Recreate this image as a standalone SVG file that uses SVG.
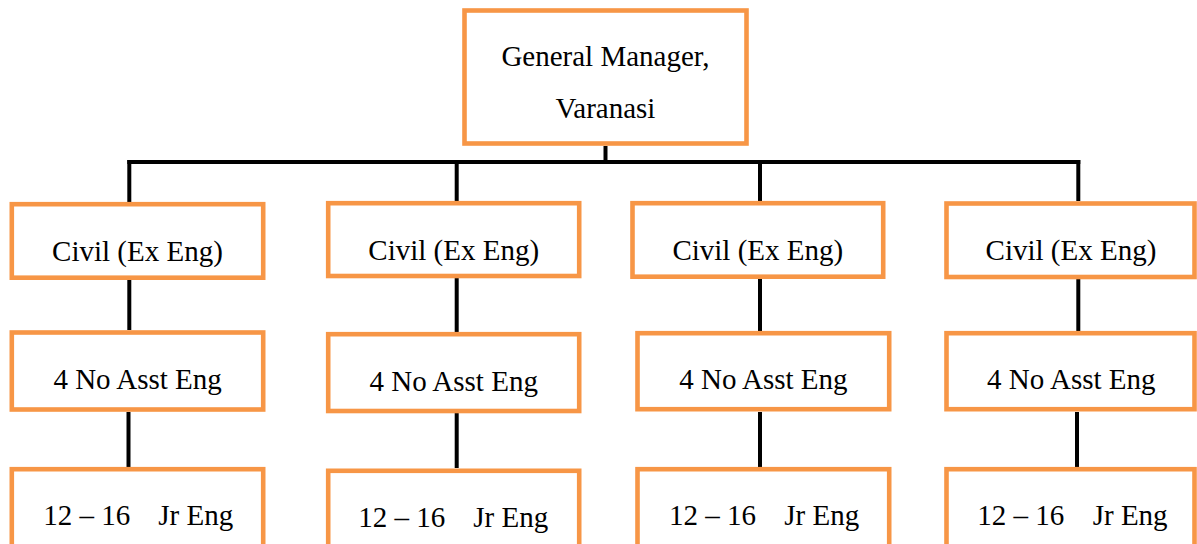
<svg xmlns="http://www.w3.org/2000/svg" width="1197" height="544" viewBox="0 0 1197 544">
<rect width="1197" height="544" fill="#ffffff"/>
<g id="connectors" stroke="#000000" stroke-width="4">
<line x1="605.5" y1="146" x2="605.5" y2="162"/>
<line x1="127.3" y1="162" x2="1080.3" y2="162"/>
<line x1="129.3" y1="160" x2="129.3" y2="202"/>
<line x1="456.7" y1="160" x2="456.7" y2="201"/>
<line x1="760" y1="160" x2="760" y2="201"/>
<line x1="1078.3" y1="160" x2="1078.3" y2="201"/>
<line x1="129.3" y1="280" x2="129.3" y2="330"/>
<line x1="456.7" y1="278" x2="456.7" y2="332"/>
<line x1="760" y1="279" x2="760" y2="331"/>
<line x1="1078.3" y1="279" x2="1078.3" y2="331"/>
<line x1="128.5" y1="412" x2="128.5" y2="467"/>
<line x1="456.7" y1="413" x2="456.7" y2="468"/>
<line x1="760" y1="412" x2="760" y2="467"/>
<line x1="1077" y1="412" x2="1077" y2="467"/>
</g>
<g id="gm">
<rect fill="#ffffff" stroke="#F79646" stroke-width="4.6" x="464.5" y="10.5" width="282" height="133"/>
<text x="605.5" y="66" font-family="Times New Roman, serif" font-size="29" text-anchor="middle">General Manager,</text>
<text x="605.5" y="118.3" font-family="Times New Roman, serif" font-size="29" text-anchor="middle">Varanasi</text>
</g>
<g id="civil1">
<rect fill="#ffffff" stroke="#F79646" stroke-width="4.6" x="11.8" y="204.2" width="251.4" height="73.5"/>
<text x="137.5" y="261" font-family="Times New Roman, serif" font-size="29" text-anchor="middle">Civil (Ex Eng)</text>
</g>
<g id="civil2">
<rect fill="#ffffff" stroke="#F79646" stroke-width="4.6" x="328.2" y="203.2" width="251" height="72.8"/>
<text x="453.7" y="259.5" font-family="Times New Roman, serif" font-size="29" text-anchor="middle">Civil (Ex Eng)</text>
</g>
<g id="civil3">
<rect fill="#ffffff" stroke="#F79646" stroke-width="4.6" x="632.5" y="203.2" width="250.7" height="73.5"/>
<text x="757.8" y="259.5" font-family="Times New Roman, serif" font-size="29" text-anchor="middle">Civil (Ex Eng)</text>
</g>
<g id="civil4">
<rect fill="#ffffff" stroke="#F79646" stroke-width="4.6" x="946.5" y="203.5" width="248" height="73.5"/>
<text x="1071" y="259.5" font-family="Times New Roman, serif" font-size="29" text-anchor="middle">Civil (Ex Eng)</text>
</g>
<g id="asst1">
<rect fill="#ffffff" stroke="#F79646" stroke-width="4.6" x="11.8" y="332.5" width="251.4" height="77"/>
<text x="137.6" y="389.3" font-family="Times New Roman, serif" font-size="29" text-anchor="middle">4 No Asst Eng</text>
</g>
<g id="asst2">
<rect fill="#ffffff" stroke="#F79646" stroke-width="4.6" x="328.2" y="334.2" width="251" height="76.8"/>
<text x="453.7" y="391" font-family="Times New Roman, serif" font-size="29" text-anchor="middle">4 No Asst Eng</text>
</g>
<g id="asst3">
<rect fill="#ffffff" stroke="#F79646" stroke-width="4.6" x="637.5" y="333.2" width="251.7" height="76"/>
<text x="763.4" y="389.3" font-family="Times New Roman, serif" font-size="29" text-anchor="middle">4 No Asst Eng</text>
</g>
<g id="asst4">
<rect fill="#ffffff" stroke="#F79646" stroke-width="4.6" x="946.5" y="333.2" width="248" height="76"/>
<text x="1071.3" y="389.3" font-family="Times New Roman, serif" font-size="29" text-anchor="middle">4 No Asst Eng</text>
</g>
<g id="jr1">
<rect fill="#ffffff" stroke="#F79646" stroke-width="4.6" x="11.8" y="469.2" width="251.4" height="100"/>
<text y="525" font-family="Times New Roman, serif" font-size="29"><tspan x="43.3">12 &#8211; 16</tspan> <tspan x="158.3">Jr Eng</tspan></text>
</g>
<g id="jr2">
<rect fill="#ffffff" stroke="#F79646" stroke-width="4.6" x="328.2" y="470.8" width="251" height="100"/>
<text y="526.7" font-family="Times New Roman, serif" font-size="29"><tspan x="358.3">12 &#8211; 16</tspan> <tspan x="473.3">Jr Eng</tspan></text>
</g>
<g id="jr3">
<rect fill="#ffffff" stroke="#F79646" stroke-width="4.6" x="637.5" y="469.2" width="251.7" height="100"/>
<text y="525" font-family="Times New Roman, serif" font-size="29"><tspan x="669">12 &#8211; 16</tspan> <tspan x="784.3">Jr Eng</tspan></text>
</g>
<g id="jr4">
<rect fill="#ffffff" stroke="#F79646" stroke-width="4.6" x="946.5" y="469.2" width="248" height="100"/>
<text y="525" font-family="Times New Roman, serif" font-size="29"><tspan x="977.3">12 &#8211; 16</tspan> <tspan x="1092.7">Jr Eng</tspan></text>
</g>
</svg>
